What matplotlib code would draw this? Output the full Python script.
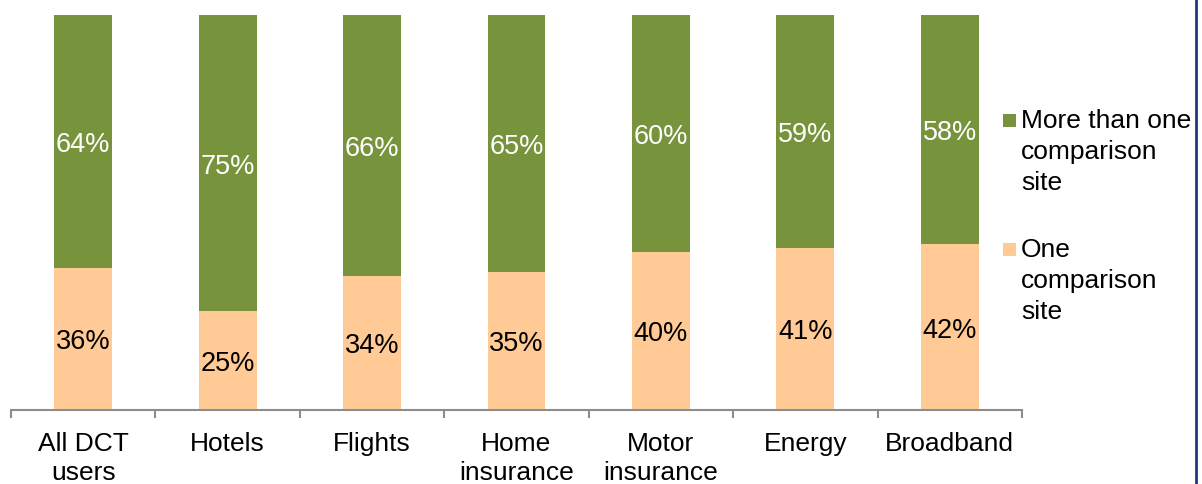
import numpy as np
import matplotlib.pyplot as plt
from matplotlib.patches import Rectangle
from matplotlib.lines import Line2D

categories = ["All DCT\nusers", "Hotels", "Flights", "Home\ninsurance",
              "Motor\ninsurance", "Energy", "Broadband"]
one_site = [36, 25, 34, 35, 40, 41, 42]
more_sites = [64, 75, 66, 65, 60, 59, 58]

GREEN = "#77933C"
PEACH = "#FFCA96"
AXIS_GREY = "#8C8C8C"

plt.rcParams['font.family'] = ['Liberation Sans', 'DejaVu Sans']

fig = plt.figure(figsize=(12.02, 4.84), dpi=100)
ax = fig.add_axes([11 / 1202, 74 / 484, 1011 / 1202, 395 / 484])

x = np.arange(len(categories))
bar_w = 0.4
ax.bar(x, one_site, width=bar_w, color=PEACH)
ax.bar(x, more_sites, width=bar_w, bottom=one_site, color=GREEN)

for xi, lo, hi in zip(x, one_site, more_sites):
    ax.annotate(f"{lo}%", (xi, lo / 2), xytext=(0, -2.5), textcoords='offset points',
                ha='center', va='center', fontsize=19.5, color='black')
    ax.annotate(f"{hi}%", (xi, lo + hi / 2), xytext=(0, -2.5), textcoords='offset points',
                ha='center', va='center', fontsize=19.5, color='white')

ax.set_xlim(-0.5, len(categories) - 0.5)
ax.set_ylim(0, 100)
ax.set_yticks([])
for side in ('left', 'right', 'top'):
    ax.spines[side].set_visible(False)
ax.spines['bottom'].set_color(AXIS_GREY)
ax.spines['bottom'].set_linewidth(1.5)

ax.set_xticks(x)
ax.set_xticklabels(categories, fontsize=19, linespacing=1.23)
ax.tick_params(axis='x', which='major', length=0, pad=16)
ax.set_xticks(np.arange(len(categories) + 1) - 0.5, minor=True)
ax.tick_params(axis='x', which='minor', length=6, width=1.5, color=AXIS_GREY)

# legend, drawn by hand so each swatch sits on the first text line
legend_items = [("More than one\ncomparison\nsite", GREEN, 114, 109),
                ("One\ncomparison\nsite", PEACH, 243, 238)]
for label, color, swatch_top, text_top in legend_items:
    fig.patches.append(Rectangle((1003 / 1202, 1 - (swatch_top + 13) / 484), 13 / 1202, 13 / 484,
                                 transform=fig.transFigure, facecolor=color, edgecolor='none'))
    fig.text(1021 / 1202, 1 - text_top / 484, label, fontsize=19, ha='left', va='top',
             linespacing=1.36, transform=fig.transFigure)

fig.lines.append(Line2D([1196 / 1202, 1196 / 1202], [0, 1], transform=fig.transFigure,
                        color="#1F3A7A", linewidth=2))

fig.savefig("out.png", dpi=100)
